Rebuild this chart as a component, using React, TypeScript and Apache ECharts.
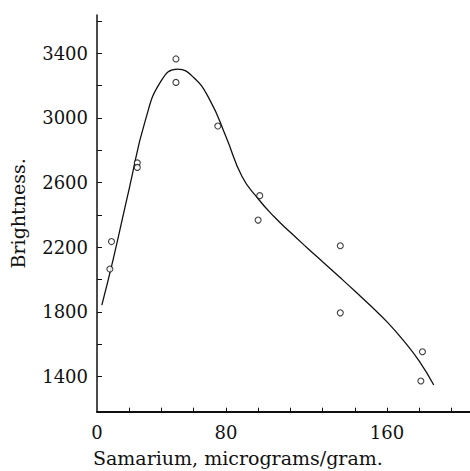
import React, { useEffect, useRef } from "react";
import * as echarts from "echarts";

// Measured points (Samarium, micrograms/gram vs Brightness)
const pointX = [9, 8, 25, 25, 49, 49, 75, 101, 100, 151, 151, 202, 201];
const pointY = [2235, 2065, 2722, 2694, 3365, 3220, 2950, 2519, 2368, 2209, 1794, 1553, 1372];

// Fitted curve
const curveX = [3, 10, 20, 30, 40, 50, 60, 70, 80, 90, 100, 110, 120, 130, 140, 150, 160, 170, 180, 190, 200, 209];
const curveY = [1842, 2123, 2563, 2985, 3232, 3302, 3250, 3112, 2885, 2638, 2500, 2388, 2292, 2200, 2110, 2020, 1929, 1836, 1738, 1625, 1495, 1347];

// Axis ticks and labels (as printed on the figure)
const xTickValues = [20, 40, 60, 80, 100, 120, 140, 160, 180, 200, 220];
const xLabelValues = [0, 80, 180];
const xLabelTexts = ["0", "80", "160"];
const yTickValues = [1400, 1600, 1800, 2000, 2200, 2400, 2600, 2800, 3000, 3200, 3400, 3600];
const yLabelValues = [1400, 1800, 2200, 2600, 3000, 3400];

const xName = "Samarium, micrograms/gram.";
const yName = "Brightness.";

const FONT = '"DejaVu Serif", serif';
const INK = "#111";

export default function App() {
  const ref = useRef<HTMLDivElement>(null);
  useEffect(() => {
    if (!ref.current) return;
    const chart = echarts.init(ref.current, null, { renderer: "svg" });
    chart.setOption({
      animation: false,
      backgroundColor: "#fff",
      grid: { left: 96, top: 15, width: 374, height: 396.7 },
      xAxis: {
        type: "value",
        min: 0,
        max: 231.5,
        axisLine: { show: true, lineStyle: { color: INK, width: 2 } },
        axisTick: { show: true, inside: true, length: 4, customValues: xTickValues, lineStyle: { color: INK, width: 1 } },
        axisLabel: {
          customValues: xLabelValues,
          formatter: (v: number) => {
            const i = xLabelValues.indexOf(v);
            return i >= 0 ? xLabelTexts[i] : "";
          },
          color: INK,
          fontFamily: FONT,
          fontSize: 18,
          margin: 12,
        },
        splitLine: { show: false },
      },
      yAxis: {
        type: "value",
        min: 1182,
        max: 3637,
        name: yName,
        nameLocation: "middle",
        nameGap: 70,
        nameTextStyle: { color: INK, fontFamily: FONT, fontSize: 19 },
        axisLine: { show: true, lineStyle: { color: INK, width: 1.5 } },
        axisTick: { show: true, inside: true, length: 5, customValues: yTickValues, lineStyle: { color: INK, width: 1 } },
        axisLabel: {
          customValues: yLabelValues,
          formatter: (v: number) => String(v),
          color: INK,
          fontFamily: FONT,
          fontSize: 18,
          margin: 9,
          padding: [9, 0, 0, 0],
        },
        splitLine: { show: false },
      },
      graphic: [
        {
          type: "text",
          left: 93,
          top: 448,
          style: { text: xName, font: `19px ${FONT}`, fill: INK },
        },
      ],
      series: [
        {
          type: "line",
          data: curveX.map((x, i) => [x, curveY[i]]),
          smooth: 0.5,
          symbol: "none",
          lineStyle: { color: INK, width: 1.3 },
          z: 2,
        },
        {
          type: "scatter",
          data: pointX.map((x, i) => [x, pointY[i]]),
          symbol: "circle",
          symbolSize: 6,
          itemStyle: { color: "#fff", borderColor: INK, borderWidth: 1.1 },
          z: 3,
        },
      ],
    });
    return () => chart.dispose();
  }, []);
  return <div ref={ref} style={{ width: 470, height: 471, position: "absolute", left: 0, top: 0 }} />;
}
